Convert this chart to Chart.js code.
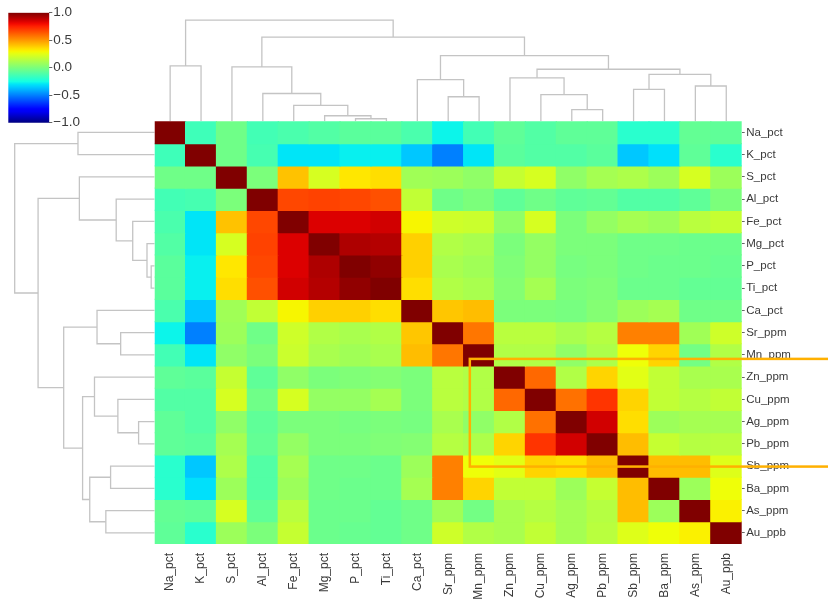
<!DOCTYPE html>
<html>
<head>
<meta charset="utf-8">
<script src="https://cdn.jsdelivr.net/npm/chart.js@4.4.1/dist/chart.umd.min.js"></script>
<style>
html, body { margin: 0; padding: 0; background: #fff; width: 828px; height: 600px; overflow: hidden; }
canvas { position: absolute; }
</style>
</head>
<body>
<canvas id="cbar" width="100" height="135" style="left:0;top:0"></canvas>
<canvas id="dendLeft" width="155" height="434" style="left:0;top:116px"></canvas>
<canvas id="dendTop" width="600" height="126" style="left:150px;top:0"></canvas>
<canvas id="heat" width="678" height="484" style="left:150px;top:116px"></canvas>
<script>
// variable names, in clustered order
const labels = ['Na_pct','K_pct','S_pct','Al_pct','Fe_pct','Mg_pct','P_pct','Ti_pct','Ca_pct',
  'Sr_ppm','Mn_ppm','Zn_ppm','Cu_ppm','Ag_ppm','Pb_ppm','Sb_ppm','Ba_ppm','As_ppm','Au_ppb'];

// correlation rows
const rowNa = [1, -0.15, -0.03, -0.14, -0.12, -0.1, -0.08, -0.08, -0.12, -0.27, -0.14, -0.07, -0.1, -0.07, -0.07, -0.2, -0.2, -0.06, -0.07];
const rowK  = [-0.15, 1, -0.03, -0.13, -0.3, -0.3, -0.28, -0.28, -0.36, -0.5, -0.3, -0.08, -0.1, -0.1, -0.08, -0.36, -0.31, -0.07, -0.2];
const rowS  = [-0.03, -0.03, 1, 0.0, 0.41, 0.22, 0.33, 0.35, 0.09, 0.08, 0.05, 0.18, 0.22, 0.05, 0.1, 0.12, 0.08, 0.22, 0.08];
const rowAl = [-0.14, -0.13, 0.0, 1, 0.67, 0.68, 0.67, 0.65, 0.17, -0.03, 0.0, -0.07, -0.03, -0.07, -0.06, -0.1, -0.1, -0.07, 0.0];
const rowFe = [-0.12, -0.3, 0.41, 0.67, 1, 0.84, 0.84, 0.86, 0.3, 0.2, 0.19, 0.05, 0.22, 0.0, 0.06, 0.1, 0.08, 0.15, 0.18];
const rowMg = [-0.1, -0.3, 0.22, 0.68, 0.84, 1, 0.92, 0.91, 0.38, 0.13, 0.11, 0.0, 0.06, 0.0, 0.0, -0.03, -0.03, -0.04, -0.04];
const rowP  = [-0.08, -0.28, 0.33, 0.67, 0.84, 0.92, 1, 0.97, 0.38, 0.11, 0.09, 0.01, 0.06, -0.01, 0.0, -0.03, -0.04, -0.04, -0.05];
const rowTi = [-0.08, -0.28, 0.35, 0.65, 0.86, 0.91, 0.97, 1, 0.35, 0.13, 0.11, 0.02, 0.1, 0.0, 0.01, -0.04, -0.04, -0.06, -0.06];
const rowCa = [-0.12, -0.36, 0.09, 0.17, 0.3, 0.38, 0.38, 0.35, 1, 0.4, 0.42, 0.0, 0.0, -0.01, 0.02, 0.08, 0.1, -0.03, -0.03];
const rowSr = [-0.27, -0.5, 0.08, -0.03, 0.2, 0.13, 0.11, 0.13, 0.4, 1, 0.57, 0.15, 0.15, 0.11, 0.14, 0.55, 0.55, 0.09, 0.2];
const rowMn = [-0.14, -0.3, 0.05, 0.0, 0.19, 0.11, 0.09, 0.11, 0.42, 0.57, 1, 0.13, 0.13, 0.05, 0.12, 0.28, 0.37, -0.02, 0.13];
const rowZn = [-0.07, -0.08, 0.18, -0.07, 0.05, 0.0, 0.01, 0.02, 0.0, 0.15, 0.13, 1, 0.6, 0.13, 0.37, 0.25, 0.17, 0.11, 0.11];
const rowCu = [-0.1, -0.1, 0.22, -0.03, 0.22, 0.06, 0.06, 0.1, 0.0, 0.15, 0.13, 0.6, 1, 0.58, 0.71, 0.37, 0.17, 0.14, 0.17];
const rowAg = [-0.07, -0.1, 0.05, -0.07, 0.0, 0.0, -0.01, 0.0, -0.01, 0.11, 0.05, 0.13, 0.58, 1, 0.86, 0.35, 0.08, 0.1, 0.1];
const rowPb = [-0.07, -0.08, 0.1, -0.06, 0.06, 0.0, 0.0, 0.01, 0.02, 0.14, 0.12, 0.37, 0.71, 0.86, 1, 0.42, 0.18, 0.14, 0.15];
const rowSb = [-0.2, -0.36, 0.12, -0.1, 0.1, -0.03, -0.03, -0.04, 0.08, 0.55, 0.28, 0.25, 0.37, 0.35, 0.42, 1, 0.42, 0.42, 0.24];
const rowBa = [-0.2, -0.31, 0.08, -0.1, 0.08, -0.03, -0.04, -0.04, 0.1, 0.55, 0.37, 0.17, 0.17, 0.08, 0.18, 0.42, 1, 0.08, 0.28];
const rowAs = [-0.06, -0.07, 0.22, -0.07, 0.15, -0.04, -0.04, -0.06, -0.03, 0.09, -0.02, 0.11, 0.14, 0.1, 0.14, 0.42, 0.08, 1, 0.31];
const rowAu = [-0.07, -0.2, 0.08, 0.0, 0.18, -0.04, -0.05, -0.06, -0.03, 0.2, 0.13, 0.11, 0.17, 0.1, 0.15, 0.24, 0.28, 0.31, 1];
const rows = [rowNa,rowK,rowS,rowAl,rowFe,rowMg,rowP,rowTi,rowCa,rowSr,rowMn,rowZn,rowCu,rowAg,rowPb,rowSb,rowBa,rowAs,rowAu];

// linkage: node 19+k joins mergeA[k] and mergeB[k] at mergeH[k] (root = 1)
const mergeA = [6, 5, 4, 3, 2, 0, 9, 8, 13, 12, 11, 15, 17, 30, 29, 26, 23, 24];
const mergeB = [7, 19, 20, 21, 22, 1, 10, 25, 14, 27, 28, 16, 18, 31, 32, 33, 34, 35];
const mergeH = [0.025, 0.055, 0.157, 0.275, 0.538, 0.548, 0.243, 0.412, 0.115, 0.263, 0.43, 0.315, 0.349, 0.464, 0.515, 0.65, 0.833, 1.0];

const cbarTicks = [-1, -0.5, 0, 0.5, 1];

// matplotlib jet
const jetR = [[0,0],[0.35,0],[0.66,1],[0.89,1],[1,0.5]];
const jetG = [[0,0],[0.125,0],[0.375,1],[0.64,1],[0.91,0],[1,0]];
const jetB = [[0,0.5],[0.11,1],[0.34,1],[0.65,0],[1,0]];
function interp(stops, t) {
  for (let i = 1; i < stops.length; i++) {
    if (t <= stops[i][0]) {
      const [t0, v0] = stops[i-1], [t1, v1] = stops[i];
      return v0 + (v1 - v0) * (t - t0) / (t1 - t0);
    }
  }
  return stops[stops.length-1][1];
}
function jet(v) {
  const t = Math.min(1, Math.max(0, (v + 1) / 2));
  return 'rgb(' + Math.round(255*interp(jetR,t)) + ',' + Math.round(255*interp(jetG,t)) + ',' + Math.round(255*interp(jetB,t)) + ')';
}

const FAMILY = "'Liberation Sans', Arial, sans-serif";
const TEXT = '#3a3a3a';
const LINK = '#c4c4c4';
Chart.defaults.animation = false;

function noPad(s) { s.paddingTop = 0; s.paddingBottom = 0; s.paddingLeft = 0; s.paddingRight = 0; }

// ---------- heatmap ----------
const highlight = {col: 10.2, rowTop: 10.68, rowBottom: 15.52};
const boxPlugin = {
  id: 'box',
  afterDraw(chart) {
    const a = chart.chartArea, ctx = chart.ctx;
    const cw = (a.right - a.left) / labels.length, ch = (a.bottom - a.top) / labels.length;
    const x = a.left + highlight.col * cw;
    const y1 = a.top + highlight.rowTop * ch, y2 = a.top + highlight.rowBottom * ch;
    ctx.save();
    ctx.strokeStyle = '#ffb000';
    ctx.lineWidth = 2.5;
    ctx.strokeRect(x, y1, chart.width - x + 10, y2 - y1);
    ctx.restore();
  }
};

new Chart(document.getElementById('heat'), {
  type: 'bar',
  data: {
    labels: labels,
    datasets: rows.map((row, r) => ({
      label: labels[r],
      data: labels.map(() => 1),
      backgroundColor: row.map(jet),
      borderWidth: 0,
      inflateAmount: 0.6,
      barPercentage: 1,
      categoryPercentage: 1
    }))
  },
  options: {
    responsive: false,
    layout: {padding: {left: 4.7, top: 5.3, right: 0, bottom: 0}},
    plugins: {legend: {display: false}, tooltip: {enabled: false}},
    scales: {
      x: {
        stacked: true,
        grid: {drawOnChartArea: false, drawTicks: false},
        border: {display: false},
        ticks: {autoSkip: false, maxRotation: 90, minRotation: 90, padding: 9, color: TEXT, font: {family: FAMILY, size: 12}},
        afterFit(s) { s.height = 56; noPad(s); }
      },
      y: {
        stacked: true,
        position: 'right',
        reverse: true,
        min: 0, max: labels.length,
        grid: {drawOnChartArea: false, drawTicks: true, tickLength: 3, color: '#666'},
        border: {display: false},
        afterBuildTicks(s) { s.ticks = labels.map((n, i) => ({value: i + 0.5})); },
        ticks: {autoSkip: false, padding: 1.5, color: TEXT, font: {family: FAMILY, size: 11.5}, callback: (v, i) => labels[i]},
        afterFit(s) { s.width = 86.3; noPad(s); }
      }
    }
  },
  plugins: [boxPlugin]
});

// ---------- dendrograms ----------
function linkSegments() {
  const pos = labels.map((n, i) => i + 0.5);
  const hgt = labels.map(() => 0);
  const segs = [];
  mergeA.forEach((a, k) => {
    const b = mergeB[k], h = mergeH[k];
    segs.push([[pos[a], hgt[a]], [pos[a], h], [pos[b], h], [pos[b], hgt[b]]]);
    pos.push((pos[a] + pos[b]) / 2);
    hgt.push(h);
  });
  return segs;
}
const segs = linkSegments();

function dendroDatasets(swap) {
  return segs.map(s => ({
    data: s.map(([p, h]) => swap ? {x: h, y: p} : {x: p, y: h}),
    showLine: true,
    borderColor: LINK,
    borderWidth: 1.3,
    pointRadius: 0,
    tension: 0
  }));
}

new Chart(document.getElementById('dendTop'), {
  type: 'scatter',
  data: {datasets: dendroDatasets(false)},
  options: {
    responsive: false,
    layout: {padding: {left: 4.7, right: 8.3, top: 0, bottom: 4.7}},
    plugins: {legend: {display: false}, tooltip: {enabled: false}},
    scales: {
      x: {type: 'linear', display: false, min: 0, max: labels.length},
      y: {type: 'linear', display: false, min: 0, max: 1.2}
    }
  }
});

new Chart(document.getElementById('dendLeft'), {
  type: 'scatter',
  data: {datasets: dendroDatasets(true)},
  options: {
    responsive: false,
    layout: {padding: {left: 0, right: 0.3, top: 5.3, bottom: 6}},
    plugins: {legend: {display: false}, tooltip: {enabled: false}},
    scales: {
      x: {type: 'linear', display: false, reverse: true, min: 0, max: 1.105},
      y: {type: 'linear', display: false, reverse: true, min: 0, max: labels.length}
    }
  }
});

// ---------- colour bar ----------
function jetGradient(ctx) {
  const a = ctx.chart.chartArea;
  if (!a) return null;
  const g = ctx.chart.ctx.createLinearGradient(0, a.bottom, 0, a.top);
  for (let i = 0; i <= 40; i++) g.addColorStop(i / 40, jet(-1 + i / 20));
  return g;
}

new Chart(document.getElementById('cbar'), {
  type: 'bar',
  data: {
    labels: [''],
    datasets: [{data: [[cbarTicks[0], cbarTicks[cbarTicks.length-1]]], backgroundColor: jetGradient,
      borderWidth: 0, barPercentage: 1, categoryPercentage: 1}]
  },
  options: {
    responsive: false,
    layout: {padding: {left: 8.3, top: 12.7, bottom: 12.3, right: 0}},
    plugins: {legend: {display: false}, tooltip: {enabled: false}},
    scales: {
      x: {display: false},
      y: {
        position: 'right',
        min: -1, max: 1,
        grid: {drawOnChartArea: false, drawTicks: true, tickLength: 3, color: '#666'},
        border: {display: false},
        afterBuildTicks(s) { s.ticks = cbarTicks.map(v => ({value: v})); },
        ticks: {padding: 1, color: TEXT, font: {family: FAMILY, size: 13.5},
          callback: v => (v < 0 ? '\u2212' : '') + Math.abs(v).toFixed(1)},
        afterFit(s) { s.width = 50.7; noPad(s); }
      }
    }
  }
});
</script>
</body>
</html>
